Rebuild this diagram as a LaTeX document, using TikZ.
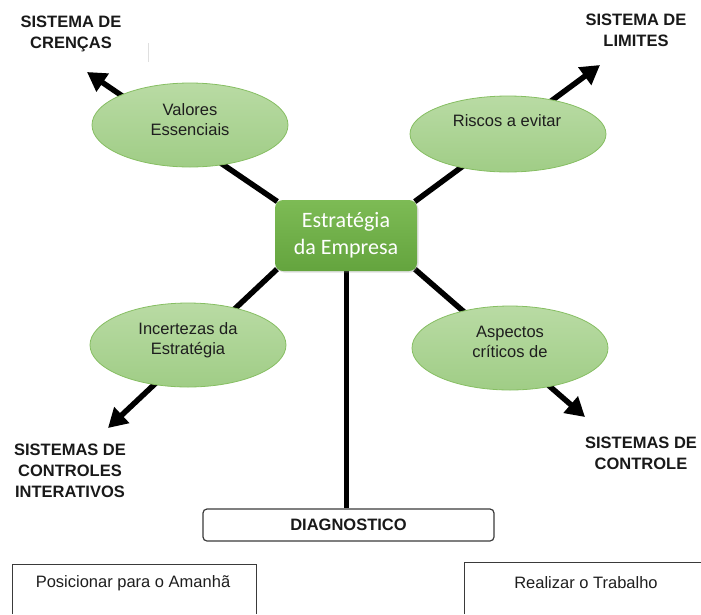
\documentclass[tikz,border=0pt]{standalone}
\usepackage{fontspec}
\setmainfont{Liberation Sans}
\newfontfamily\calfont{Carlito}
\usetikzlibrary{arrows.meta,shapes.geometric,shadows}
\pgfdeclarelayer{back}
\pgfsetlayers{back,main}

\definecolor{bubbletop}{HTML}{B9DBA4}
\definecolor{bubblebot}{HTML}{A0CD86}
\definecolor{bubbleline}{HTML}{86BE62}
\definecolor{coretop}{HTML}{7DBB55}
\definecolor{corebot}{HTML}{64A43E}
\definecolor{textgray}{HTML}{1E1E1E}
\definecolor{framegray}{HTML}{3A3A3A}

\begin{document}
\begin{tikzpicture}[x=1pt,y=-1pt,
  bubble/.style={ellipse, draw=bubbleline, line width=0.8pt,
    top color=bubbletop, bottom color=bubblebot,
    minimum width=196pt, minimum height=84pt, inner sep=0pt},
  bubbletext/.style={font=\fontsize{16.5}{20}\selectfont, text=textgray, align=center},
  syslabel/.style={font=\bfseries\fontsize{16.5}{21}\selectfont, text=black!90, align=center},
  spoke/.style={line width=5.5pt, -{Triangle[length=19pt,width=21pt]}},
  stem/.style={line width=5pt},
  core/.style={rounded corners=8pt, top color=coretop, bottom color=corebot,
    minimum width=142pt, minimum height=71pt, inner sep=0pt,
    text=white, font=\calfont\fontsize{22}{27}\selectfont, align=center,
    drop shadow={opacity=0.25, shadow xshift=1.5pt, shadow yshift=-1.5pt}},
  plaintext/.style={font=\fontsize{16.5}{20}\selectfont, text=textgray},
  framebox/.style={draw=framegray, line width=1pt}
]
\useasboundingbox (0,0) rectangle (701,614);

% central strategy box
\node[core] (core) at (346,235.5) {Estratégia\\da Empresa};

% arrow targets
\coordinate (tipNW) at (87,72);
\coordinate (tipNE) at (600,65);
\coordinate (tipSW) at (108,428);
\coordinate (tipSE) at (585,417);

% green bubbles
\node[bubble] (valores) at (190,125) {};
\node[bubble, minimum height=76pt] (riscos) at (508,134) {};
\node[bubble] (incertezas) at (188,345) {};
\node[bubble] (aspectos) at (510,348) {};

\node[bubbletext] (valoresT) at (190,120) {Valores\\Essenciais};
\node[bubbletext] (riscosT) at (507,121) {Riscos a evitar};
\node[bubbletext] (incertezasT) at (188,340) {Incertezas da\\Estratégia};
\node[bubbletext] (aspectosT) at (510,342) {Aspectos\\críticos de};

% control system labels
\node[syslabel] (crencas) at (71,34) {SISTEMA DE\\CRENÇAS};
\node[syslabel] (limites) at (636,30) {SISTEMA DE\\LIMITES};
\node[syslabel] (interativos) at (70,471) {SISTEMAS DE\\CONTROLES\\INTERATIVOS};
\node[syslabel] (controle) at (641,453) {SISTEMAS DE\\CONTROLE};

% diagnosis box
\node[draw=framegray, line width=1.2pt, rounded corners=4pt,
  minimum width=291pt, minimum height=32pt, inner sep=0pt,
  font=\bfseries\fontsize{16.5}{20}\selectfont, text=black!90] (diag) at (348.5,525) {DIAGNOSTICO};

% bottom open boxes
\node[plaintext] (amanha) at (133,583) {Posicionar para o Amanhã};
\node[plaintext] (trabalho) at (586,583) {Realizar o Trabalho};
\draw[framebox] (12,614) |- (256,564) -- (256,614);
\draw[framebox] (464,614) |- (702,562);

% faint vertical tick
\draw[gray!25, line width=0.8pt] (148,43) -- (148,62);

% spokes and stem behind the shapes
\begin{pgfonlayer}{back}
  \draw[spoke, shorten <=-3pt] (core.north west) -- (tipNW);
  \draw[spoke, shorten <=-3pt] (core.north east) -- (tipNE);
  \draw[spoke, shorten <=-3pt] (core.south west) -- (tipSW);
  \draw[spoke, shorten <=-3pt] (core.south east) -- (tipSE);
  \draw[stem] (core.south) -- (core.south |- diag.north);
\end{pgfonlayer}
\end{tikzpicture}
\end{document}
